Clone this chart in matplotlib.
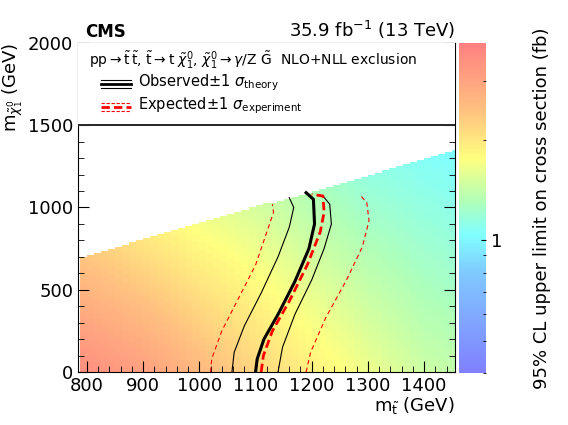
import numpy as np
import matplotlib
matplotlib.use("Agg")
import matplotlib.pyplot as plt
from matplotlib.colors import LinearSegmentedColormap, LogNorm
from matplotlib.lines import Line2D

# data
mstop_edges = np.arange(787.5, 1470, 12.5)
mchi_edges = np.arange(0, 1400, 12.5)
# diagonal boundary (upper neutralino mass edge of the scanned region)
bound_x = [787.5, 1462.5]
bound_y = [700, 1350]
# limit (fb) as a function of stop mass at low / high neutralino mass
lim_x = [790, 900, 1000, 1100, 1200, 1300, 1400, 1460]
lim_low = [3.5, 3.1, 2.6, 2.2, 1.9, 1.65, 1.45, 1.4]
lim_high = [2.4, 2.0, 1.7, 1.5, 1.3, 1.15, 1.07, 1.03]

obs_x = [1100, 1103, 1115, 1140, 1170, 1195, 1205, 1203, 1190]
obs_y = [0, 80, 200, 350, 550, 750, 900, 1050, 1090]
obsm_x = [1058, 1062, 1080, 1110, 1140, 1160, 1168, 1160]
obsm_y = [0, 120, 280, 480, 700, 880, 1000, 1060]
obsp_x = [1140, 1148, 1170, 1200, 1222, 1235, 1232, 1220]
obsp_y = [0, 150, 350, 560, 750, 900, 1020, 1070]
exp_x = [1110, 1114, 1130, 1160, 1192, 1215, 1222, 1220, 1200]
exp_y = [0, 100, 250, 430, 650, 850, 970, 1070, 1080]
expm_x = [1020, 1022, 1040, 1070, 1100, 1120, 1132, 1130]
expm_y = [0, 80, 250, 450, 650, 850, 970, 1020]
expp_x = [1190, 1198, 1225, 1262, 1290, 1302, 1298, 1285]
expp_y = [0, 120, 330, 560, 760, 920, 1030, 1080]

cmap = LinearSegmentedColormap.from_list("r", [
    (0.0, "#8080ff"), (0.3, "#80c8ff"), (0.42, "#80ffff"), (0.52, "#b0ffb8"),
    (0.65, "#ffff80"), (0.8, "#ffc080"), (1.0, "#ff8080")])
norm = LogNorm(0.4, 3.9)

fig = plt.figure(figsize=(5.68, 4.25), dpi=100)
ax = fig.add_axes([78/568, 1-372/425, (455-78)/568, (372-43)/425])
cax = fig.add_axes([459/568, 1-373/425, (486-459)/568, (373-43)/425])

xc = 0.5*(mstop_edges[:-1]+mstop_edges[1:])
yc = 0.5*(mchi_edges[:-1]+mchi_edges[1:])
X, Y = np.meshgrid(xc, yc)
lo = np.interp(X, lim_x, lim_low)
hi = np.interp(X, lim_x, lim_high)
ymax = np.interp(X, bound_x, bound_y)
frac = np.clip(Y/ymax, 0, 1)
Z = np.exp(np.log(lo)*(1-frac) + np.log(hi)*frac)
Z = np.ma.masked_where(Y > ymax, Z)
m = ax.pcolormesh(mstop_edges, mchi_edges, Z, cmap=cmap, norm=norm, shading="flat")

ax.plot(obs_x, obs_y, color="black", lw=2.2)
ax.plot(obsm_x, obsm_y, color="black", lw=0.8)
ax.plot(obsp_x, obsp_y, color="black", lw=0.8)
ax.plot(exp_x, exp_y, color="red", lw=2, ls=(0, (3, 1.5)))
ax.plot(expm_x, expm_y, color="red", lw=0.8, ls=(0, (4, 3)))
ax.plot(expp_x, expp_y, color="red", lw=0.8, ls=(0, (4, 3)))

ax.set_xlim(784, 1455)
ax.set_ylim(0, 2000)
ax.set_xticks([800, 900, 1000, 1100, 1200, 1300, 1400])
ax.set_yticks([0, 500, 1000, 1500, 2000])
ax.minorticks_on()
ax.tick_params(which="both", direction="in", top=True, right=True, labelsize=13)
ax.tick_params(which="major", length=8)
ax.tick_params(which="minor", length=4)
ax.axhspan(1500, 2000, color="white", zorder=3)
ax.axhline(1500, color="black", lw=1.2, zorder=4)

ax.text(0.02, 1.005, "CMS", transform=ax.transAxes, fontsize=12, fontweight="bold", va="bottom")
ax.text(1.0, 1.005, r"35.9 fb$^{-1}$ (13 TeV)", transform=ax.transAxes, fontsize=13, ha="right", va="bottom")
ax.text(0.03, 0.948, r"pp$\rightarrow\tilde{\rm t}\,\tilde{\rm t}$, $\tilde{\rm t}\rightarrow$t $\tilde{\chi}^0_1$, $\tilde{\chi}^0_1\rightarrow\gamma$/Z $\tilde{\rm G}$  NLO+NLL exclusion",
        transform=ax.transAxes, fontsize=10, va="center", zorder=5)
lx = [0.06, 0.14]
def seg(y, c, lw, ls):
    ax.add_line(Line2D(lx, [y, y], transform=ax.transAxes, color=c, lw=lw, ls=ls, zorder=5))
for y, lw in [(0.888, 0.8), (0.876, 2), (0.864, 0.8)]:
    seg(y, "black", lw, "-")
for y, lw in [(0.818, 0.8), (0.806, 2), (0.794, 0.8)]:
    seg(y, "red", lw, (0, (3, 1.5)))
ax.text(0.16, 0.88, r"Observed$\pm$1 $\sigma_{\rm theory}$", transform=ax.transAxes, fontsize=10.5, va="center", zorder=5)
ax.text(0.16, 0.81, r"Expected$\pm$1 $\sigma_{\rm experiment}$", transform=ax.transAxes, fontsize=10.5, va="center", zorder=5)

ax.set_xlabel(r"m$_{\tilde{\rm t}}$ (GeV)", fontsize=13, loc="right", labelpad=0)
ax.set_ylabel(r"m$_{\tilde{\chi}^0_1}$ (GeV)", fontsize=13, loc="top", labelpad=2)

cb = fig.colorbar(m, cax=cax)
cb.outline.set_visible(False)
cax.tick_params(which="both", direction="in", labelsize=13)
cb.set_ticks([1])
cb.set_ticklabels(["1"])
cax.yaxis.set_minor_formatter(matplotlib.ticker.NullFormatter())
cb.set_label("95% CL upper limit on cross section (fb)", fontsize=13, labelpad=22)

fig.savefig("out.png", dpi=100)
